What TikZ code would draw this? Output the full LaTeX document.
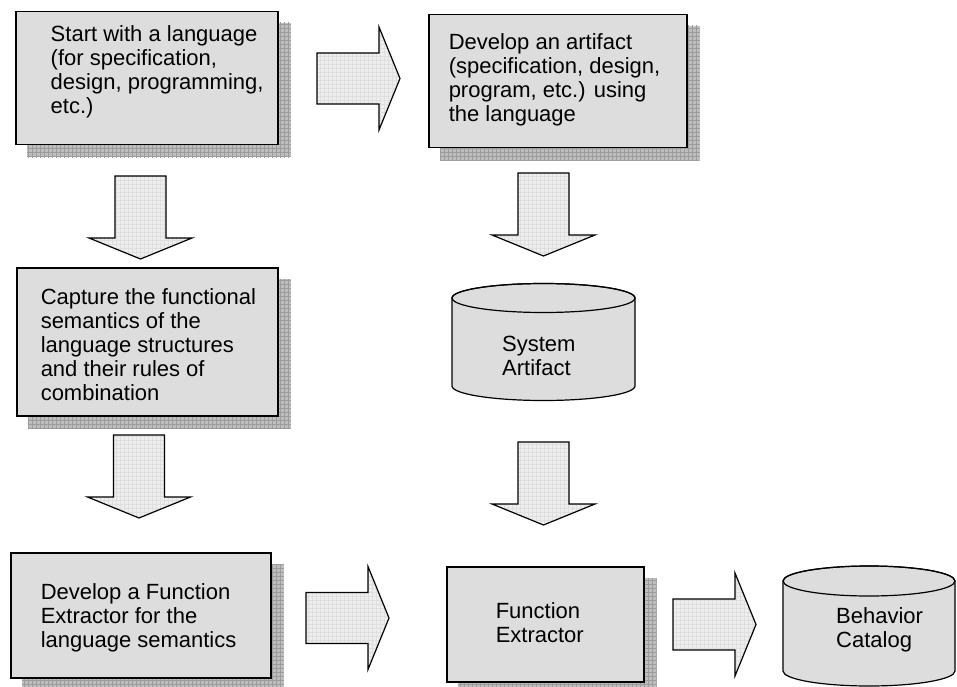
\documentclass[tikz,border=0pt]{standalone}
\usepackage{fontspec}
\setmainfont{Liberation Sans}
\usetikzlibrary{calc,backgrounds}

\definecolor{boxgray}{HTML}{DDDDDD}
\definecolor{shadowgray}{HTML}{BEBEBE}
\definecolor{shadowline}{HTML}{9C9C9C}
\definecolor{arrowfill}{HTML}{EEEEEE}
\definecolor{arrowline}{HTML}{DFDFDF}

% box contents: width, height, left inset, gap above first line, lines
\newcommand\boxbody[5]{%
  \parbox[c][#2][t]{#1}{\raggedright\leftskip=#3\relax\parindent=0pt
    \vspace*{#4}\strut #5}}

% hatched drop shadow behind a box node
\newcommand\dropshadow[1]{%
  \fill[shadowgray] ($(#1.north west)+(12,12)$) rectangle ($(#1.south east)+(12,12)$);
  \begin{scope}
    \clip ($(#1.north west)+(12,12)$) rectangle ($(#1.south east)+(12,12)$);
    \draw[shadowline, line width=0.5pt, step=4pt]
      ($(#1.south west)+(0,16)$) grid ($(#1.north east)+(16,0)$);
  \end{scope}}

% light hatched fill plus outline for a block arrow outline
\newcommand\blockfill[1]{%
  \fill[arrowfill] #1;
  \begin{scope}
    \clip #1;
    \draw[arrowline, line width=0.4pt, step=4pt] (0,687) grid (957,0);
  \end{scope}
  \draw[line width=1.2pt, line join=miter] #1;}

% block arrows: right-pointing from shaft start, down-pointing from shaft top
\newcommand\rarrow[1]{\blockfill{(#1) ++(0,-25.5) -- ++(62,0) -- ++(0,-26)
  -- ++(21,51.5) -- ++(-21,51.5) -- ++(0,-26) -- ++(-62,0) -- cycle}}
\newcommand\darrow[1]{\blockfill{(#1) ++(-25.5,0) -- ++(0,62) -- ++(-26,0)
  -- ++(51.5,21) -- ++(51.5,-21) -- ++(-26,0) -- ++(0,-62) -- cycle}}

% data store: centre x, x radius, top y, bottom y, y radius
\newcommand\datastore[5]{%
  \filldraw[fill=boxgray, draw=black, line width=1.2pt]
    (#1-#2,#3) -- (#1-#2,#4) arc[start angle=180, end angle=0, x radius=#2, y radius=#5]
    -- (#1+#2,#3) arc[start angle=0, end angle=-180, x radius=#2, y radius=#5] -- cycle;
  \draw[line width=1.2pt] (#1,#3) ellipse[x radius=#2, y radius=#5];}

\tikzset{
  box/.style={draw=black, line width=1.5pt, fill=boxgray, inner sep=0pt,
    anchor=north west, font=\fontsize{22}{24}\selectfont},
  storetext/.style={inner sep=0pt, anchor=base west,
    font=\fontsize{22}{24}\selectfont}
}

\begin{document}
\begin{tikzpicture}[x=1pt, y=-1pt]
\useasboundingbox (0,0) rectangle (957,687);

% process boxes
\node[box] (start) at (15,11)
  {\boxbody{262pt}{133pt}{35pt}{13pt}{Start with a language\\(for specification,\\design, programming,\\etc.)}};
\node[box] (artifact) at (428,14)
  {\boxbody{258pt}{133pt}{20pt}{18pt}{Develop an artifact\\(specification, design,\\program, etc.) using\\the language}};
\node[box] (capture) at (16,267)
  {\boxbody{261pt}{148pt}{24pt}{20pt}{Capture the functional\\semantics of the\\language structures\\and their rules of\\combination}};
\node[box] (develop) at (10,552)
  {\boxbody{260pt}{125pt}{30pt}{30pt}{Develop a Function\\Extractor for the\\language semantics}};
\node[box] (fx) at (446,566)
  {\boxbody{197pt}{115pt}{49pt}{35pt}{Function\\Extractor}};

\begin{scope}[on background layer]
  \foreach \n in {start,artifact,capture,develop,fx} {\dropshadow{\n}}
\end{scope}

% data stores
\datastore{543.5}{91.5}{298}{386}{14.5}
\node[storetext] (system) at (502,351.75) {\parbox[t]{110pt}{System\\Artifact}};
\datastore{869}{86}{581}{671}{15}
\node[storetext] (catalog) at (836,623.75) {\parbox[t]{100pt}{Behavior\\Catalog}};

% block arrows
\coordinate (ra1) at (317,78.5);
\coordinate (ra2) at (306,618);
\coordinate (ra3) at (673,624.5);
\coordinate (da1) at (140.5,176);
\coordinate (da2) at (543.5,173);
\coordinate (da3) at (139,435);
\coordinate (da4) at (543.5,442);
\rarrow{ra1}
\rarrow{ra2}
\rarrow{ra3}
\darrow{da1}
\darrow{da2}
\darrow{da3}
\darrow{da4}
\end{tikzpicture}
\end{document}
